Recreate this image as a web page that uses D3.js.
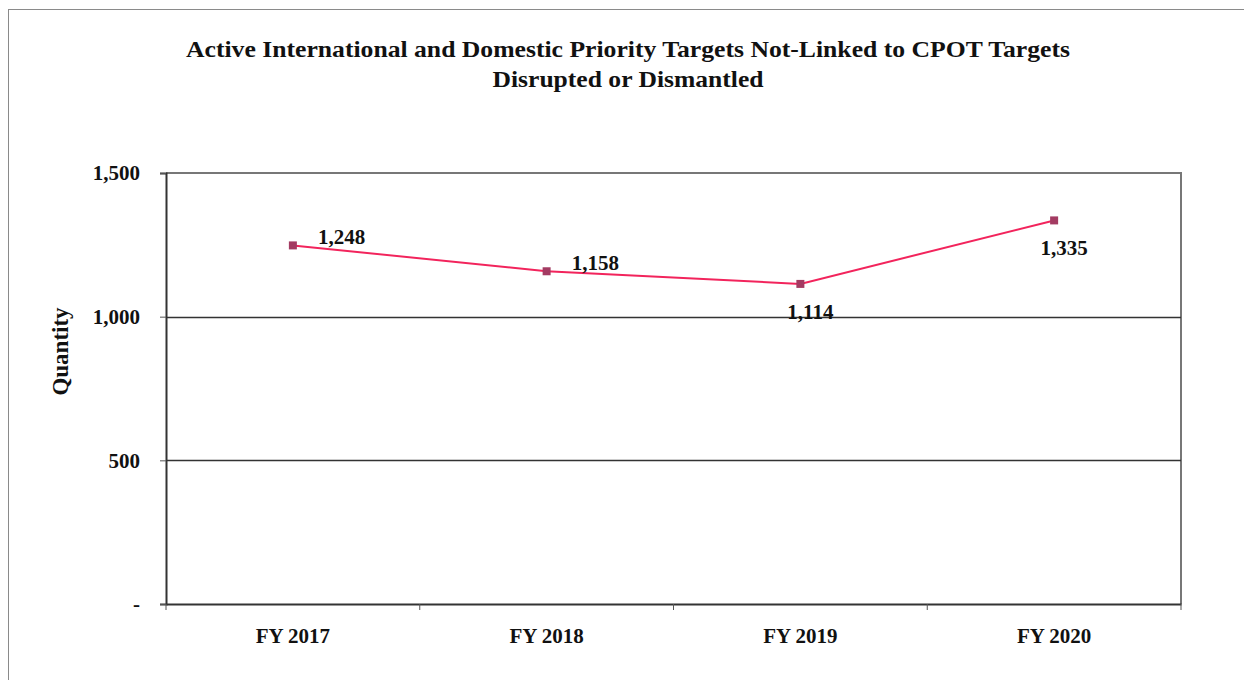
<!DOCTYPE html>
<html>
<head>
<meta charset="utf-8">
<script src="https://cdn.jsdelivr.net/npm/d3@7"></script>
<style>
  html, body { margin: 0; padding: 0; background: #fff; }
  svg { display: block; }
  text { font-family: "Liberation Serif", "Times New Roman", serif; font-weight: bold; fill: #111; }
</style>
</head>
<body>
<svg id="chart" width="1244" height="680"></svg>
<script>
// Fiscal years and counts of priority targets disrupted or dismantled
const categories = ["FY 2017", "FY 2018", "FY 2019", "FY 2020"];
const values = [1248, 1158, 1114, 1335];
const yTicks = [0, 500, 1000, 1500];
const labelSide = ["above", "above", "below", "below"];
const titleLines = [
  "Active International and Domestic Priority Targets Not-Linked to CPOT Targets",
  "Disrupted or Dismantled"
];
const titleWidths = [884, 271];

const svg = d3.select("#chart");
const W = 1244, H = 680;
const plot = { left: 166, right: 1181, top: 173, bottom: 604 };

// Outer frame
svg.append("rect")
  .attr("x", 8.5).attr("y", 9.5)
  .attr("width", W + 10).attr("height", H + 10)
  .attr("fill", "#fff").attr("stroke", "#8a8a8a").attr("stroke-width", 1);

// Title
svg.selectAll("text.title")
  .data(titleLines)
  .join("text")
  .attr("class", "title")
  .attr("x", 628)
  .attr("y", (d, i) => 57 + i * 30)
  .attr("text-anchor", "middle")
  .attr("textLength", (d, i) => titleWidths[i])
  .attr("lengthAdjust", "spacingAndGlyphs")
  .style("font-size", "24px")
  .text(d => d);

const x = d3.scaleBand().domain(categories).range([plot.left, plot.right]).padding(0);
const y = d3.scaleLinear().domain([0, 1500]).range([plot.bottom, plot.top]);
const cx = d => x(d) + x.bandwidth() / 2;

// Plot area border (top and right)
svg.append("path")
  .attr("d", `M${plot.left},${plot.top}H${plot.right}V${plot.bottom}`)
  .attr("fill", "none").attr("stroke", "#777").attr("stroke-width", 2);

// Horizontal gridlines
svg.append("g")
  .selectAll("line")
  .data(yTicks.filter(t => t > 0 && t < 1500))
  .join("line")
  .attr("x1", plot.left).attr("x2", plot.right)
  .attr("y1", d => Math.round(y(d)) + 0.5).attr("y2", d => Math.round(y(d)) + 0.5)
  .attr("stroke", "#333").attr("stroke-width", 1.3);

// Y axis
const yAxis = svg.append("g")
  .attr("transform", `translate(${plot.left},0)`)
  .call(d3.axisLeft(y).tickValues(yTicks).tickSize(6).tickPadding(20)
    .tickFormat(d => d === 0 ? "-" : d3.format(",")(d)));
yAxis.select(".domain").attr("stroke", "#333").attr("stroke-width", 2);
yAxis.selectAll(".tick line").attr("stroke", "#555");
yAxis.selectAll(".tick text")
  .style("font-size", "21px")
  .style("font-family", "'Liberation Serif', serif")
  .style("font-weight", "bold")
  .attr("fill", "#111");

// X axis with ticks at category boundaries
const xAxis = svg.append("g")
  .attr("transform", `translate(0,${plot.bottom})`)
  .call(d3.axisBottom(x).tickSize(0).tickPadding(24));
xAxis.select(".domain").attr("stroke", "#333").attr("stroke-width", 2);
xAxis.selectAll(".tick text")
  .style("font-size", "21px")
  .style("font-family", "'Liberation Serif', serif")
  .style("font-weight", "bold")
  .attr("fill", "#111");
const boundaries = categories.map(c => x(c)).concat([x(categories[categories.length - 1]) + x.bandwidth()]);
svg.append("g")
  .selectAll("line")
  .data(boundaries)
  .join("line")
  .attr("x1", d => d).attr("x2", d => d)
  .attr("y1", plot.bottom).attr("y2", plot.bottom + 6)
  .attr("stroke", "#555").attr("stroke-width", 1);

// Y axis title
svg.append("text")
  .attr("transform", `translate(68,${(plot.top + plot.bottom) / 2 - 37}) rotate(-90)`)
  .attr("text-anchor", "middle")
  .style("font-size", "23px")
  .text("Quantity");

// Series line
const pts = categories.map((c, i) => ({ c, v: values[i], side: labelSide[i] }));
svg.append("path")
  .datum(pts)
  .attr("d", d3.line().x(d => cx(d.c)).y(d => y(d.v)))
  .attr("fill", "none")
  .attr("stroke", "#f2245c")
  .attr("stroke-width", 2);

// Square markers
svg.append("g")
  .selectAll("rect")
  .data(pts)
  .join("rect")
  .attr("x", d => cx(d.c) - 4).attr("y", d => y(d.v) - 4)
  .attr("width", 8).attr("height", 8)
  .attr("fill", "#a33b62");

// Value labels
svg.append("g")
  .selectAll("text")
  .data(pts)
  .join("text")
  .attr("x", d => d.side === "above" ? cx(d.c) + 25 : cx(d.c) + 10)
  .attr("y", d => d.side === "above" ? y(d.v) - 1 : y(d.v) + 35)
  .attr("text-anchor", d => d.side === "above" ? "start" : "middle")
  .style("font-size", "21px")
  .text(d => d3.format(",")(d.v));
</script>
</body>
</html>
